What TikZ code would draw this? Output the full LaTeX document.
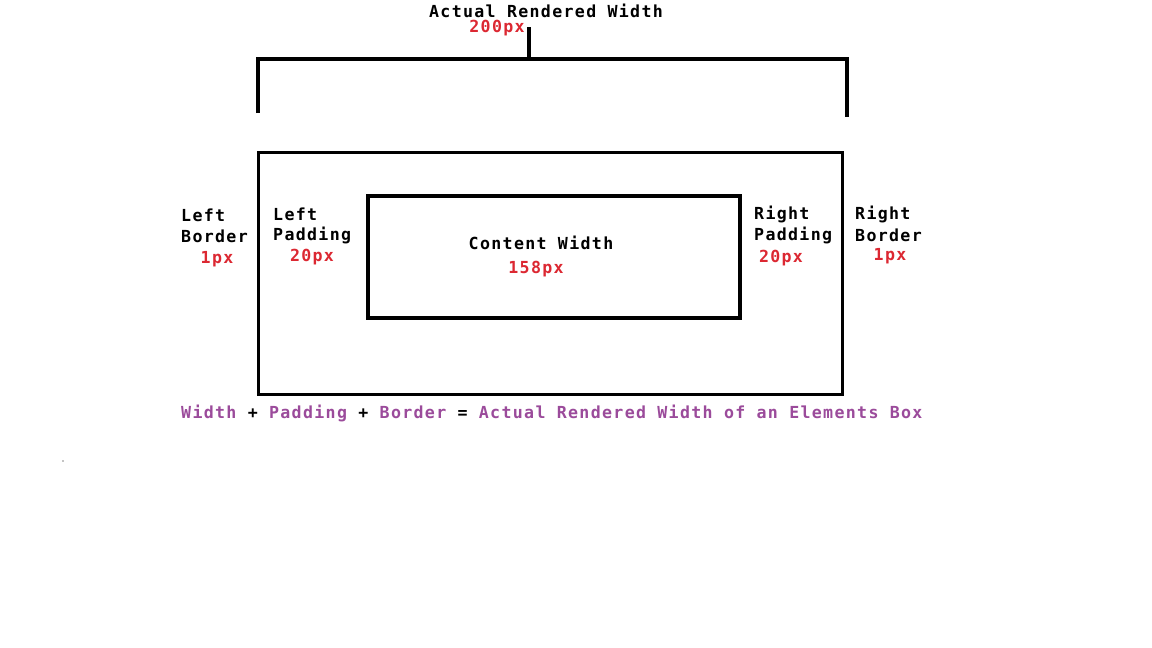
\documentclass[tikz,border=0pt]{standalone}
\usepackage{fontspec}
\newfontfamily\mono[LetterSpace=8]{DejaVu Sans Mono}
\usetikzlibrary{positioning}
\definecolor{redlbl}{RGB}{220,40,50}
\definecolor{purplelbl}{RGB}{155,75,155}
\begin{document}
\begin{tikzpicture}[x=1pt,y=-1pt,
  lbl/.style={font=\mono\bfseries\fontsize{16.6}{20}\selectfont, text=black, inner sep=0pt},
  val/.style={lbl, text=redlbl},
  thick4/.style={line width=4pt, line cap=butt},
  thick3/.style={line width=3pt}]
\useasboundingbox (0,0) rectangle (1152,648);
\fill[white] (0,0) rectangle (1152,648);
% bracket
\coordinate (bl) at (258,113);
\coordinate (tl) at (258,59);
\coordinate (tr) at (847,59);
\coordinate (br) at (847,117);
\coordinate (stemtop) at (529,27);
\coordinate (stembot) at (529,59);
\draw[thick4, line join=miter] (bl) -- (tl) -- (tr) -- (br);
\draw[thick4] (stemtop) -- (stembot);
% boxes
\draw[thick3] (258,152) rectangle (842,394);
\draw[thick4] (368,196) rectangle (740,318);
% labels
\node[lbl] (arw) at (546,11) {Actual Rendered Width};
\node[val] (arwv) at (497,28) {200px};
\node[lbl, anchor=west] (lb1) at (181,215) {Left};
\node[lbl, anchor=west] (lb2) at (181,236) {Border};
\node[val] (lbv) at (217,259) {1px};
\node[lbl, anchor=west] (lp1) at (273,214) {Left};
\node[lbl, anchor=west] (lp2) at (273,235) {Padding};
\node[val] (lpv) at (312,257) {20px};
\node[lbl] (cw) at (541,243) {Content Width};
\node[val] (cwv) at (536,269) {158px};
\node[lbl, anchor=west] (rp1) at (754,214) {Right};
\node[lbl, anchor=west] (rp2) at (754,235) {Padding};
\node[val] (rpv) at (781,258) {20px};
\node[lbl, anchor=west] (rb1) at (855,214) {Right};
\node[lbl, anchor=west] (rb2) at (855,235) {Border};
\node[val] (rbv) at (890,256) {1px};
\node[lbl, anchor=west] (formula) at (181,413) {\textcolor{purplelbl}{Width} + \textcolor{purplelbl}{Padding} + \textcolor{purplelbl}{Border} = \textcolor{purplelbl}{Actual Rendered Width of an Elements Box}};
\fill[black] (63,461) circle (0.6);
\end{tikzpicture}
\end{document}
